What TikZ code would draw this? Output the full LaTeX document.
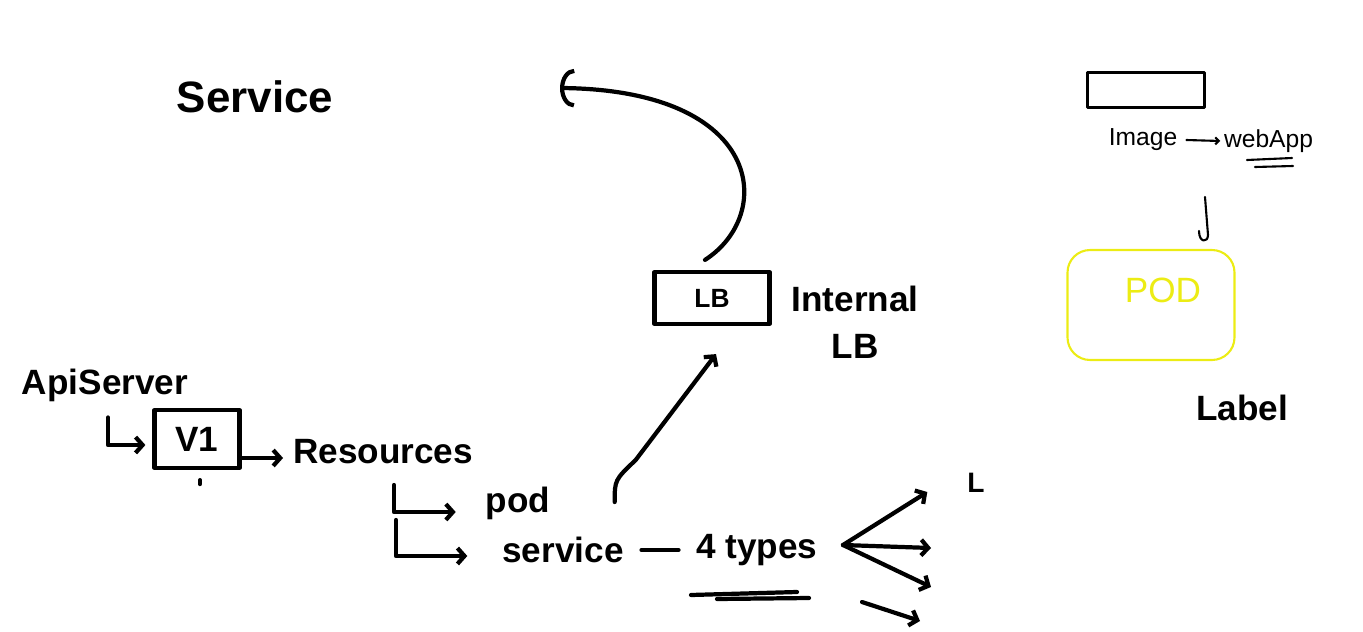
\documentclass[tikz,border=0pt]{standalone}
\usepackage{fontspec}
\setmainfont{Liberation Sans}
\usetikzlibrary{arrows.meta,positioning}
\definecolor{marker}{RGB}{236,236,20}
\tikzset{
  pen/.style={line width=2.4pt,line cap=round,line join=round},
  thinpen/.style={line width=1.2pt,line cap=round,line join=round},
  barb/.style={-{Straight Barb[length=4pt,width=9pt]}},
  word/.style={inner sep=1pt,font=\fontsize{20}{27}\selectfont\bfseries},
  smallword/.style={inner sep=1pt,font=\fontsize{14}{14}\selectfont},
  box/.style={draw,pen,inner sep=0pt},
}
\begin{document}
\begin{tikzpicture}[x=0.02cm,y=-0.02cm]
\useasboundingbox (0,0) rectangle (1363,632);
% heading
\node[word,font=\fontsize{25}{25}\selectfont\bfseries] (title) at (255,97) {Service};
% load balancer
\node[box,minimum width=2.3cm,minimum height=1.04cm,font=\fontsize{15}{15}\selectfont\bfseries] (lb) at (712,298) {LB};
\node[word,align=center] (internal) at (855,322) {Internal\\LB};
\coordinate (lbOut) at (560,88);
\draw[pen,-{Arc Barb[length=8pt,width=22pt]}] ([shift={(-7,-10)}]lb.north) .. controls (775,215) and (765,90) .. (lbOut);
% api server
\node[word] (api) at (105,385) {ApiServer};
\node[box,minimum width=1.7cm,minimum height=1.16cm,font=\fontsize{20}{20}\selectfont\bfseries] (v1) at (197,439) {V1};
\draw[pen,barb] ([shift={(3,14)}]api.south) |- ([shift={(-7,6)}]v1.west);
\draw[pen] ([shift={(3,10)}]v1.south) -- ++(0,4);
\node[word] (res) at (383,452) {Resources};
\draw[pen,barb] ([shift={(0,19)}]v1.east) -- ([shift={(-8,6)}]res.west);
% resources
\node[word] (pod) at (518,503) {pod};
\node[word] (svc) at (563,550) {service};
\coordinate (fork) at (394,485);
\draw[pen,barb] (fork) |- ([shift={(-28,9)}]pod.west);
\draw[pen,barb] ([shift={(2,35)}]fork) |- ([shift={(-33,6)}]svc.west);
\draw[pen,barb] ([shift={(-11,-33)}]svc.north east) .. controls ([shift={(-11,-55)}]svc.north east) .. ([shift={(10,-75)}]svc.north east) -- ([shift={(4,28)}]lb.south);
% service types
\node[word] (types) at (757,550) {4 types};
\draw[pen,shorten <=9pt,shorten >=9pt] (svc.east) -- (types.west);
\draw[pen] (691,595) -- (797,592);
\draw[pen] (717,599) -- (809,598);
\node[word,font=\fontsize{16}{16}\selectfont\bfseries] (typeL) at (976,483) {L};
\coordinate (fan) at (843,545);
\draw[pen,barb] (fan) -- ([shift={(-38,9)}]typeL.west);
\draw[pen,barb] (fan) -- (931,548);
\draw[pen,barb] (fan) -- (931,587);
\draw[pen,barb] (862,602) -- (920,621);
% image to pod
\node[draw,thinpen,minimum width=2.34cm,minimum height=0.7cm] (img) at (1146,90) {};
\node[smallword] (image) at (1143,140) {Image};
\node[smallword,anchor=west] (webapp) at (1222,141) {webApp};
\draw[thinpen,-{Straight Barb[length=2pt,width=4pt]}] ([xshift=4pt]image.east) -- ([xshift=-1pt]webapp.west);
\draw[thinpen] (1247,160) -- (1292,158);
\draw[thinpen] (1255,167) -- (1293,166);
\node[draw=marker,thinpen,rounded corners=0.45cm,minimum width=3.34cm,minimum height=2.2cm] (podbox) at (1151,305) {};
\node[inner sep=0pt,text=marker,font=\fontsize{20}{20}\selectfont] (podtxt) at ([shift={(12,-15)}]podbox.center) {POD};
\coordinate (drop) at (1205,197);
\coordinate (dropEnd) at ([shift={(57,-14)}]podbox.north);
\draw[thinpen] (drop) -- (dropEnd) .. controls ([shift={(0,8)}]dropEnd) and ([shift={(-9,8)}]dropEnd) .. ([shift={(-9,-4)}]dropEnd);
\node[word] (label) at (1242,408) {Label};
\end{tikzpicture}
\end{document}
